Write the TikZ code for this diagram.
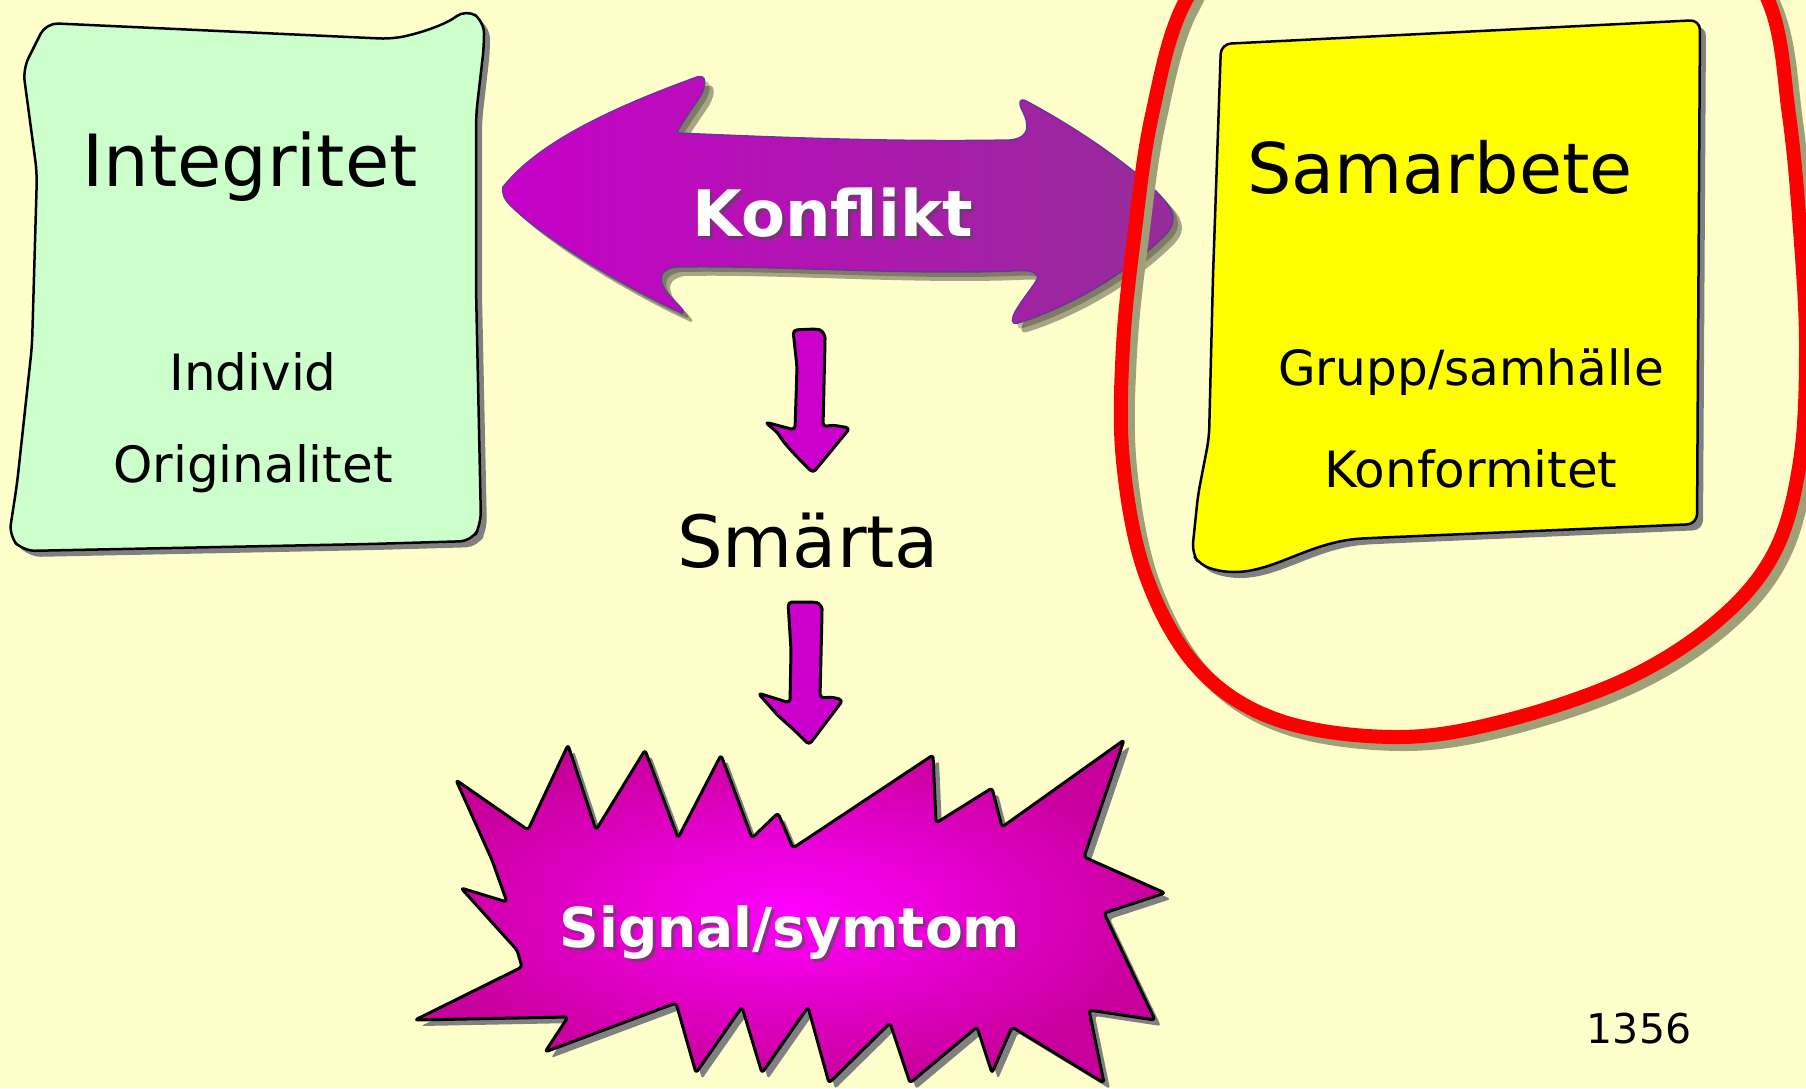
\documentclass[tikz,border=0pt]{standalone}
\usepackage{fontspec}
\setmainfont{DejaVu Sans}
\definecolor{bg}{HTML}{FFFFCC}
\definecolor{greenfill}{HTML}{CCFFCC}
\definecolor{yel}{HTML}{FFFF00}
\definecolor{redloop}{HTML}{FF0000}
\definecolor{arrL}{HTML}{C800C8}
\definecolor{arrR}{HTML}{952D98}
\definecolor{arrEdge}{HTML}{7030A0}
\definecolor{downfill}{HTML}{CC00CC}
\definecolor{burstIn}{HTML}{FF00FF}
\definecolor{burstOut}{HTML}{C8009B}
\definecolor{shadowgray}{HTML}{808080}
\definecolor{loopshadow}{HTML}{A0A078}
\begin{document}
\begin{tikzpicture}[x=1pt,y=-1pt,
  note/.style={draw=black,line width=2.5pt,line join=round},
  noteshadow/.style={fill=shadowgray},
  bigtxt/.style={font=\fontsize{72}{80}\selectfont,text=black,inner sep=0pt},
  subtxt/.style={font=\fontsize{50}{60}\selectfont,text=black,inner sep=0pt},
  whitetxt/.style={font=\bfseries\fontsize{64}{72}\selectfont,text=white,inner sep=0pt},
  glowtxt/.style={font=\bfseries\fontsize{64}{72}\selectfont,text=black!70,opacity=0.6,inner sep=0pt},
  downarrow/.style={fill=downfill,draw=black,line width=3pt,line join=round}
]
\useasboundingbox (0,0) rectangle (1806,1088);
\fill[bg] (0,0) rectangle (1806,1088);

% ---------- green note ----------
\def\greenpath{(46,23) -- (392,39) .. controls (420,33) and (445,25) .. (466,9) -- (484,21) -- (484,46) -- (476,115) -- (476,288) -- (481,524) -- (472,541) -- (369,544) -- (23,551) -- (9,536) -- (17,484) -- (32,346) -- (37,173) -- (23,69) -- cycle}
\fill[noteshadow,rounded corners=12pt,xshift=6pt,yshift=-6pt] \greenpath;
\filldraw[note,fill=greenfill,rounded corners=12pt] \greenpath;
\node[bigtxt] (integ) at (250,167) {Integritet};
\node[subtxt] (indiv) at (253,372) {Individ};
\node[subtxt] (orig) at (253,469) {Originalitet};

% ---------- yellow note ----------
\def\yellowpath{(1221,44) -- (1700,20) -- (1697,524) -- (1371,538) .. controls (1300,542) and (1262,585) .. (1200,565) -- (1192,553) -- (1198,495) -- (1209,438) -- (1213,276) -- cycle}
\fill[noteshadow,rounded corners=10pt,xshift=6pt,yshift=-6pt] \yellowpath;
\filldraw[note,fill=yel,rounded corners=10pt] \yellowpath;
\node[bigtxt,font=\fontsize{70}{80}\selectfont] (samarb) at (1440,167) {Samarbete};
\node[subtxt,font=\fontsize{48.5}{58}\selectfont] (grupp) at (1471,372) {Grupp/samhälle};
\node[subtxt] (konf) at (1471,469) {Konformitet};

% ---------- Konflikt double arrow ----------
\def\konfpath{(503,187)
 .. controls (540,140) and (620,105) .. (697,77)
 .. controls (707,74) and (706,85) .. (701,95)
 .. controls (690,112) and (680,125) .. (677,133)
 .. controls (790,138) and (900,142) .. (1010,140)
 .. controls (1030,138) and (1030,125) .. (1022,110)
 .. controls (1018,102) and (1020,98) .. (1026,101)
 .. controls (1090,135) and (1150,180) .. (1168,205)
 .. controls (1175,215) and (1175,225) .. (1165,235)
 .. controls (1120,280) and (1060,310) .. (1018,323)
 .. controls (1010,325) and (1012,318) .. (1015,312)
 .. controls (1025,295) and (1035,285) .. (1038,277)
 .. controls (1035,270) and (1025,270) .. (1010,271)
 .. controls (900,275) and (770,265) .. (675,267)
 .. controls (660,270) and (658,278) .. (665,290)
 .. controls (672,300) and (688,312) .. (682,313)
 .. controls (620,285) and (540,235) .. (510,205)
 .. controls (503,198) and (502,192) .. (503,187) -- cycle}
\fill[black,opacity=0.35,xshift=9pt,yshift=-9pt] \konfpath;
\fill[black,opacity=0.25,xshift=5pt,yshift=-5pt] \konfpath;
\path[draw=arrEdge,line width=1.5pt,left color=arrL,right color=arrR] \konfpath;
\node[glowtxt] (konflikt-s) at (836,216) {Konflikt};
\node[whitetxt] (konflikt) at (833,213) {Konflikt};

% ---------- red loop ----------
\def\looppath{plot[smooth cycle,tension=0.6] coordinates {(1186,0) (1152,115) (1135,230) (1123,346) (1123,461) (1146,576) (1198,668) (1278,720) (1394,737) (1500,722) (1624,680) (1716,622) (1774,553) (1800,461) (1806,346) (1800,230) (1789,115) (1768,0) (1700,-90) (1480,-120) (1260,-85)}}
\draw[loopshadow,line width=14pt,xshift=7pt,yshift=-7pt] \looppath;
\draw[redloop,line width=14pt] \looppath;

% ---------- Smärta ----------
\node[bigtxt] (smarta) at (808,541) {Smärta};

% ---------- down arrows ----------
\filldraw[downarrow,rounded corners=4pt] (793,330) -- (815,329) .. controls (822,330) and (825,335) .. (825,342) -- (823,427) -- (832,425) -- (850,428) -- (813,473) .. controls (800,460) and (785,445) .. (778,433) -- (765,422) -- (795,430) -- (797,367) -- cycle;
\filldraw[downarrow,rounded corners=4pt] (788,602) -- (813,602) .. controls (819,603) and (822,607) .. (822,613) -- (820,698) -- (832,697) -- (843,700) -- (809,745) .. controls (795,730) and (780,718) .. (773,710) -- (758,693) -- (790,703) -- (791,650) -- cycle;

% ---------- starburst ----------
\def\burstpath{(456,780) -- (528,830) -- (568,745) -- (596,830) -- (645,750) -- (678,838) -- (721,755) -- (752,838) -- (778,813) -- (793,848) -- (933,755) -- (936,823) -- (992,788) -- (1002,827) -- (1124,740) -- (1084,857) -- (1165,893) -- (1104,913) -- (1155,1020) -- (1089,1010) -- (1104,1083) -- (1012,1027) -- (992,1073) -- (977,1027) -- (910,1083) -- (890,1023) -- (829,1083) -- (808,1007) -- (762,1073) -- (742,1007) -- (696,1073) -- (676,1003) -- (545,1052) -- (568,1017) -- (415,1020) -- (522,967) -- (517,950) -- (461,888) -- (507,902) -- (492,860) -- cycle}
\fill[shadowgray,rounded corners=3pt,xshift=6pt,yshift=-6pt] \burstpath;
\path[draw=black,line width=3pt,line join=round,rounded corners=3pt,inner color=burstIn,outer color=burstOut] \burstpath;
\node[glowtxt,font=\bfseries\fontsize{55}{62}\selectfont] (signal-s) at (793,936) {Signal/symtom};
\node[whitetxt,font=\bfseries\fontsize{55}{62}\selectfont] (signal) at (790,933) {Signal/symtom};

% ---------- page number ----------
\node[font=\fontsize{41}{48}\selectfont,inner sep=0pt] (num) at (1639,1029) {1356};
\end{tikzpicture}
\end{document}
